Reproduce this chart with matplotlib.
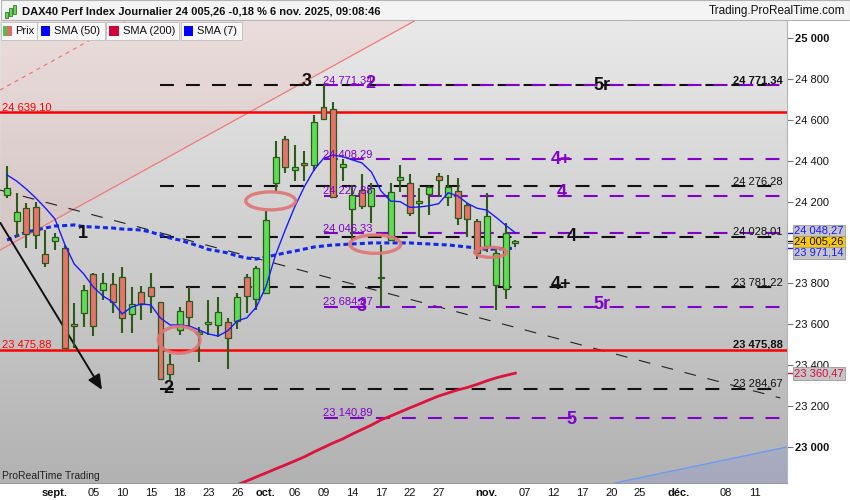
import matplotlib

matplotlib.use("Agg")
import matplotlib.pyplot as plt
import matplotlib.transforms as mtransforms
from matplotlib.colors import LinearSegmentedColormap
from matplotlib.patches import Ellipse, Rectangle
import numpy as np
import pandas as pd

plt.rcParams["font.family"] = ["Liberation Sans", "DejaVu Sans"]
plt.rcParams["lines.scale_dashes"] = False

# daily candles from 25 Aug 2025 to 6 Nov 2025 (trading days)
first_day = "2025-08-25"
opens = [24233, 24105, 24167, 24175, 23942, 24007, 23972, 23601, 23656, 23844,
         23767, 23795, 23830, 23648, 23759, 23781, 23707, 23404, 23572, 23715,
         23552, 23601, 23596, 23612, 23617, 23830, 23723, 23751, 24290, 24505,
         24355, 24391, 24380, 24665, 24654, 24368, 24163, 24257, 24180, 23830,
         24012, 24306, 24290, 24195, 24238, 24327, 24224, 24252, 24184, 24107,
         23983, 23792, 23771, 23997]
highs = [24375, 24241, 24195, 24200, 24061, 24047, 23988, 23704, 23792, 23852,
         23852, 23852, 23882, 23784, 23787, 23849, 23710, 23454, 23684, 23781,
         23586, 23718, 23735, 23630, 23753, 23846, 23885, 24156, 24497, 24522,
         24477, 24450, 24624, 24771, 24690, 24408, 24282, 24334, 24290, 23988,
         24290, 24378, 24335, 24265, 24277, 24342, 24331, 24317, 24192, 24114,
         24241, 23972, 24097, 24010]
lows = [24216, 24028, 23972, 23967, 23879, 23963, 23476, 23483, 23588, 23542,
        23718, 23653, 23558, 23558, 23620, 23656, 23327, 23327, 23548, 23588,
        23416, 23548, 23539, 23379, 23576, 23656, 23669, 23751, 24249, 24339,
        24303, 24303, 24350, 24600, 24222, 24303, 24012, 24163, 24094, 23685,
        24010, 24249, 24130, 24028, 24135, 24224, 24180, 24086, 24028, 23918,
        23955, 23669, 23722, 23980]
closes = [24265, 24148, 24042, 24038, 23898, 24028, 23482, 23591, 23767, 23591,
          23800, 23710, 23629, 23697, 23697, 23740, 23330, 23355, 23666, 23637,
          23563, 23611, 23661, 23531, 23732, 23740, 23874, 24110, 24417, 24371,
          24371, 24378, 24592, 24603, 24224, 24383, 24233, 24179, 24268, 23826,
          24249, 24322, 24146, 24200, 24270, 24306, 24273, 24119, 24114, 23950,
          24130, 23947, 24045, 24005]

sma7 = [24331, 24301, 24262, 24218, 24169, 24115, 23993, 23895, 23846, 23782,
        23738, 23709, 23650, 23684, 23699, 23694, 23630, 23596, 23596, 23591,
        23572, 23552, 23542, 23567, 23616, 23631, 23684, 23784, 23939, 24061,
        24175, 24273, 24355, 24412, 24429, 24420, 24405, 24390, 24345, 24252,
        24203, 24200, 24172, 24174, 24180, 24190, 24244, 24228, 24192, 24168,
        24159, 24123, 24084, 24048]
sma50 = [24012, 24032, 24051, 24061, 24071, 24081, 24083, 24086, 24078, 24076,
         24073, 24071, 24066, 24064, 24061, 24051, 24037, 24022, 24012, 23997,
         23983, 23966, 23958, 23949, 23934, 23924, 23919, 23929, 23939, 23949,
         23958, 23968, 23978, 23983, 23988, 23990, 23993, 23995, 23998, 23998,
         23998, 23998, 23998, 23995, 23993, 23990, 23988, 23983, 23978, 23973,
         23966, 23968, 23971, 23971]
sma200_start = "2025-09-25"
sma200 = [22793, 22813, 22832, 22852, 22871, 22891, 22910, 22930, 22950, 22974,
          22996, 23018, 23038, 23062, 23084, 23106, 23131, 23150, 23170, 23190,
          23209, 23229, 23248, 23263, 23278, 23290, 23305, 23322, 23337, 23349,
          23360]

red_levels = [24639.10, 23475.88]
black_levels = [24771.34, 24276.28, 24028.01, 23781.22, 23284.67]
black_start = "2025-09-16"
purple_levels = [24771.34, 24408.29, 24227.88, 24046.33, 23684.87, 23140.89]
purple_start = "2025-10-09"
right_labels = [24771.34, 24276.28, 24028.01, 23781.22, 23475.88, 23284.67]
right_bold = [True, False, False, False, True, False]

tick_dates = ["2025-09-01", "2025-09-05", "2025-09-10", "2025-09-15", "2025-09-18",
              "2025-09-23", "2025-09-26", "2025-10-01", "2025-10-06", "2025-10-09",
              "2025-10-14", "2025-10-17", "2025-10-22", "2025-10-27", "2025-11-03",
              "2025-11-07", "2025-11-12", "2025-11-17", "2025-11-20", "2025-11-25",
              "2025-12-01", "2025-12-08", "2025-12-11"]
tick_labels = ["sept.", "05", "10", "15", "18", "23", "26", "oct.", "06", "09",
               "14", "17", "22", "27", "nov.", "07", "12", "17", "20", "25",
               "déc.", "08", "11"]
month_labels = ["sept.", "oct.", "nov.", "déc."]

# drawn objects: (index, price) anchors
pink_line = [(0, 24112), (30, 24891)]
pink_dashed = [(0, 24896), (4, 25000)]
down_trend = [(0, 24185), (70, 23309)]
arrow_from = (-5.7, 24096)
arrow_to = (4.9, 23278)
blue_line = [(60, 22838), (76, 22995)]
ellipses = [(22.49, 24204, 5.2, 88), (12.95, 23523, 4.35, 131),
            (33.4, 23992, 5.3, 90), (45.44, 23952, 3.3, 49)]

waves = [("3", 26.2, 24787, "k"), ("2", 32.85, 24780, "p"), ("1", 2.89, 24045, "k"),
         ("2", 11.82, 23286, "k"), ("3", 31.98, 23686, "p"), ("5r", 57.0, 24771, "k"),
         ("4+", 52.8, 24407, "p"), ("4", 52.8, 24246, "p"), ("4", 53.9, 24028, "k"),
         ("4+", 52.8, 23792, "k"), ("5r", 57.0, 23694, "p"), ("5", 53.9, 23134, "p")]

last_values = [(24048.27, "#1a1aff", "#c6c6c6", 1.2),
               (24005.26, "#111111", "#ffc800", -0.4),
               (23971.14, "#1a1aff", "#c6c6c6", -3.3),
               (23360.47, "#d01040", "#c6c6c6", -0.5)]

PURPLE = "#8000c8"
GREEN = "#5edc55"
RED = "#e8736b"
EDGE = "#2c5a18"

bdays = pd.bdate_range(first_day, periods=90)
pos = {d.strftime("%Y-%m-%d"): i - 5 for i, d in enumerate(bdays)}
idx = np.arange(len(opens)) - 5

x0, x1 = -5.735, 76.33
y0, y1 = 22822, 25085


def fmt(v):
    return f"{v:,.2f}".replace(",", " ").replace(".", ",")


def line_at(anchors, xs):
    (ax_, ay), (bx, by) = anchors
    return ay + (by - ay) * (np.asarray(xs) - ax_) / (bx - ax_)


def fx(x):
    return x / 850


def fy(y):
    return 1 - y / 500


fig = plt.figure(figsize=(8.5, 5), dpi=100)
ax = fig.add_axes([0, fy(483), fx(787), (483 - 21) / 500])

bg = LinearSegmentedColormap.from_list("bg", ["#e9e9e9", "#b2b2b2"])
ax.imshow(np.linspace(0, 1, 200).reshape(-1, 1), extent=(x0, x1, y0, y1),
          aspect="auto", cmap=bg, origin="upper", zorder=0)

# shaded zones
xs = np.array([x0, x1])
ax.fill_between(xs, line_at(pink_line, xs), y1 + 500, color=(1, 0.55, 0.55), alpha=0.13,
                lw=0, zorder=1)
ax.fill_between(xs, y0 - 500, line_at(blue_line, xs), color=(0.45, 0.5, 0.95), alpha=0.18,
                lw=0, zorder=1)
ax.axline(*pink_line, color="#f07a7a", lw=0.9, zorder=2)
ax.axline(*pink_dashed, color="#f07a7a", lw=0.9, dashes=(3, 3), zorder=2)
ax.axline(*blue_line, color="#6a9cf0", lw=1.0, zorder=2)
dx = np.array([x0, x1 - 0.7])
ax.plot(dx, line_at(down_trend, dx), color="#222", lw=0.8, dashes=(8.5, 8.5), zorder=2)
ax.annotate("", xy=arrow_to, xytext=arrow_from,
            arrowprops=dict(arrowstyle="-|>,head_length=0.9,head_width=0.4",
                            color="#111", lw=1.4, shrinkA=0, shrinkB=0), zorder=5)

# horizontal levels
end_x = x1 - 0.5
for lv in red_levels:
    ax.axhline(lv, color="#ff0000", lw=1.8, zorder=3)
for lv in black_levels:
    ax.plot([pos[black_start], end_x], [lv, lv], color="#111", lw=1.5,
            dashes=(10, 8.7), zorder=3)
for lv in purple_levels:
    ax.plot([pos[purple_start], end_x], [lv, lv], color=PURPLE, lw=1.5,
            dashes=(10, 8.7), zorder=3)

# moving averages
ax.plot(idx, sma50, color="#1428e6", lw=2.2, dashes=(3.6, 2.3), zorder=4)
ax.plot(np.arange(len(sma200)) + pos[sma200_start], sma200, color="#dc143c", lw=2.0,
        zorder=4)

# candles
o, h, l, c = map(np.array, (opens, highs, lows, closes))
up = c >= o
ax.vlines(idx, l, h, color=EDGE, lw=1.5, zorder=5)
body = np.maximum(np.abs(c - o), 6)
ax.bar(idx, body, bottom=np.minimum(o, c), width=0.62,
       color=np.where(up, GREEN, RED), edgecolor=EDGE, linewidth=0.9, zorder=6)

ax.plot(idx, sma7, color="#1a1aff", lw=1.0, zorder=7)

for cx, cy, w, hh in ellipses:
    ax.add_patch(Ellipse((cx, cy), w, hh, fill=False, edgecolor="#e07474", lw=2.4,
                         alpha=0.9, zorder=8))

# level texts
for lv in red_levels:
    ax.text(x0 + 0.2, lv, fmt(lv), color="#ff0000", fontsize=8, ha="left",
            va="bottom", zorder=9)
for lv in purple_levels:
    ax.text(pos[purple_start] - 0.05, lv, fmt(lv), color=PURPLE, fontsize=8,
            ha="left", va="bottom", zorder=9)
for lv, b in zip(right_labels, right_bold):
    ax.text(75.9, lv, fmt(lv), color="#111", fontsize=8, ha="right", va="bottom",
            fontweight="bold" if b else "normal", zorder=9)
for txt, wx, wy, col in waves:
    ax.text(wx, wy, txt, color=PURPLE if col == "p" else "#111", fontsize=13,
            fontweight="bold", ha="center", va="center", zorder=10)

ax.set_xlim(x0, x1)
ax.set_ylim(y0, y1)

# axes styling
for s in ("top", "left"):
    ax.spines[s].set_visible(False)
ax.spines["right"].set_color("#b5b5b5")
ax.spines["bottom"].set_color("#9a9a9a")
ax.yaxis.set_ticks_position("right")
yt = list(range(23000, 25001, 200))
ax.set_yticks(yt)
ax.set_yticklabels([f"{v:,}".replace(",", " ") for v in yt])
for t, v in zip(ax.get_yticklabels(), yt):
    if v % 1000 == 0:
        t.set_fontweight("bold")
ax.tick_params(axis="y", length=4, width=0.8, color="#777", labelsize=8, pad=2,
               labelcolor="#111")
ax.set_xticks([pos[d] for d in tick_dates])
ax.set_xticklabels(tick_labels)
for t in ax.get_xticklabels():
    if t.get_text() in month_labels:
        t.set_fontweight("bold")
ax.tick_params(axis="x", length=0, labelsize=8, pad=3.5, labelcolor="#111")

blend = mtransforms.blended_transform_factory(ax.transAxes, ax.transData)
for val, tc, fc, dy in last_values:
    ax.plot([1.0, 1.006], [val, val], color=tc, lw=1.0, transform=blend, clip_on=False)
    ax.annotate(fmt(val), xy=(1, val), xycoords=blend, xytext=(5.2, dy),
                textcoords="offset points", ha="left", va="center", fontsize=8,
                color=tc, annotation_clip=False, zorder=12,
                bbox=dict(boxstyle="square,pad=0.12", fc=fc, ec="#9a9a9a", lw=0.6))

# header bar and legend
fig.add_artist(Rectangle((fx(0.5), fy(20)), fx(849), 19.5 / 500, transform=fig.transFigure,
                         fc="#f4f4f4", ec="#b4b4b4", lw=0.8))
for bx, bh, by, col in [(5, 6, 12, GREEN), (9, 8, 8, GREEN), (13, 9, 5, GREEN)]:
    fig.add_artist(Rectangle((fx(bx), fy(by + bh)), fx(2.6), bh / 500,
                             transform=fig.transFigure, fc=col, ec=EDGE, lw=0.5))
fig.text(fx(22), fy(11), "DAX40 Perf Index Journalier 24 005,26 -0,18 % 6 nov. 2025, 09:08:46",
         fontsize=8, fontweight="bold", ha="left", va="center", color="#111")
fig.text(fx(845), fy(11), "Trading.ProRealTime.com", fontsize=8.5, ha="right",
         va="center", color="#111")

legend_boxes = [("Prix", 0.5, 36.7, None), ("SMA (50)", 37.3, 105, "#0000ff"),
                ("SMA (200)", 106, 179.3, "#d0003a"), ("SMA (7)", 180.7, 241.7, "#0000ff")]
for label, bx0, bx1, col in legend_boxes:
    fig.add_artist(Rectangle((fx(bx0), fy(40)), fx(bx1 - bx0), 17.5 / 500,
                             transform=fig.transFigure, fc="#f8f8f8", ec="#c4c4c4", lw=0.7))
    if col is None:
        fig.add_artist(Rectangle((fx(bx0 + 2.2), fy(36)), fx(4.7), 10 / 500,
                                 transform=fig.transFigure, fc="#4cc24c", lw=0))
        fig.add_artist(Rectangle((fx(bx0 + 6.9), fy(36)), fx(4.7), 10 / 500,
                                 transform=fig.transFigure, fc="#e06a6a", lw=0))
        tx = bx0 + 14.5
    else:
        fig.add_artist(Rectangle((fx(bx0 + 3.4), fy(36)), fx(9.3), 10 / 500,
                                 transform=fig.transFigure, fc=col, lw=0))
        tx = bx0 + 16.7
    fig.text(fx(tx), fy(31), label, fontsize=8, ha="left", va="center", color="#111")

fig.text(fx(2), fy(476), "ProRealTime Trading", fontsize=7.5, ha="left", va="center",
         color="#222")

fig.savefig("out.png", dpi=100)
plt.close(fig)
